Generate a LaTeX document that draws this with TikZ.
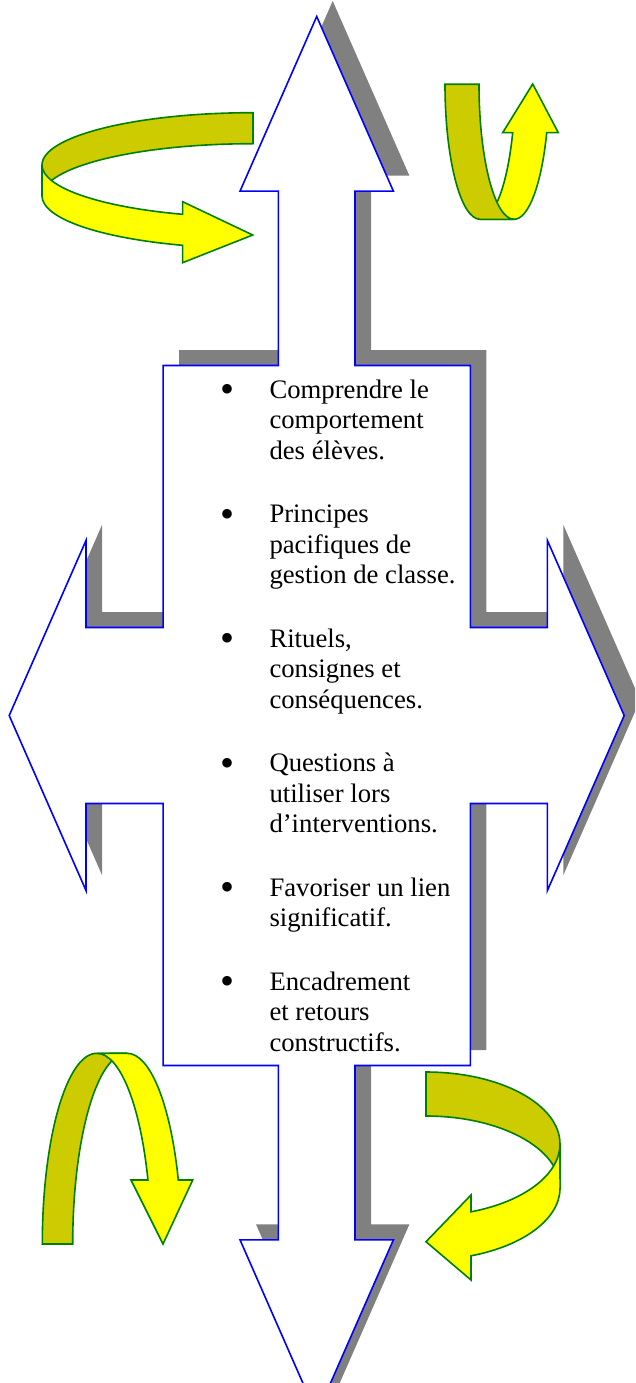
\documentclass[tikz,border=0pt]{standalone}
\usepackage{fontspec}
\setmainfont{Liberation Serif}
\usepackage{xcolor}
\definecolor{ribbonyellow}{HTML}{FFFF00}
\definecolor{ribbonolive}{HTML}{CCCC00}
\definecolor{ribbongreen}{HTML}{008000}
\definecolor{shadowgray}{HTML}{808080}
\newcommand{\itemfont}{\fontsize{26.7}{30.5}\selectfont}
% outline of the four-way arrow, around its centre
\newcommand{\crossoutline}{(0,-699) -- (76.7,-524.3) -- (38.3,-524.3) -- (38.3,-350) -- (153.6,-350) -- (153.6,-88) -- (230.7,-88) -- (230.7,-175) -- (307.5,0) -- (230.7,175) -- (230.7,88) -- (153.6,88) -- (153.6,350) -- (38.3,350) -- (38.3,524.3) -- (76.7,524.3) -- (0,699) -- (-76.7,524.3) -- (-38.3,524.3) -- (-38.3,350) -- (-153.6,350) -- (-153.6,88) -- (-230.7,88) -- (-230.7,175) -- (-307.5,0) -- (-230.7,-175) -- (-230.7,-88) -- (-153.6,-88) -- (-153.6,-350) -- (-38.3,-350) -- (-38.3,-524.3) -- (-76.7,-524.3) -- cycle}

\begin{document}
\begin{tikzpicture}[x=1pt,y=-1pt,
    crossline/.style={fill=white,draw=blue,line width=1.6pt},
    ribbonback/.style={fill=ribbonolive,draw=ribbongreen,line width=1.6pt},
    ribbonfront/.style={fill=ribbonyellow,draw=ribbongreen,line width=1.6pt},
    itemdot/.style={anchor=base,inner sep=0pt,font=\fontsize{40}{40}\selectfont},
    itemtext/.style={anchor=base west,align=left,inner sep=0pt,font=\itemfont}]
    \useasboundingbox (0,0) rectangle (635,1383);
    \clip (0,0) rectangle (635,1383);

    \begin{scope}[shift={(316.7,715.5)}]
        \fill[shadowgray,shift={(16,-15.5)}] \crossoutline;
        \draw[crossline] \crossoutline;
    \end{scope}

    % top left
    \draw[ribbonback] (253,112.7) arc[start angle=270,end angle=180,x radius=211,y radius=52.3]
        -- (42,196) arc[start angle=180,end angle=270,x radius=211,y radius=52.3] -- cycle;
    \draw[ribbonfront] (42,165) arc[start angle=180,end angle=109.5,x radius=211,y radius=52.3]
        -- (182.6,201.7) -- (252.7,235) -- (182.6,262.7) -- (182.6,245.3)
        arc[start angle=109.5,end angle=180,x radius=211,y radius=52.3] -- cycle;

    % top right
    \draw[ribbonfront] (480,219.3) arc[start angle=90,end angle=21,x radius=35,y radius=135]
        -- (502.7,132.7) -- (532.7,84) -- (558.3,132.7) -- (546.7,132.7)
        arc[start angle=21,end angle=90,x radius=35,y radius=135] -- cycle;
    \draw[ribbonback] (445,84.3) arc[start angle=180,end angle=90,x radius=35,y radius=135]
        -- (514,219.3) arc[start angle=90,end angle=180,x radius=35,y radius=135] -- cycle;

    % bottom left
    \draw[ribbonback] (42.3,1244) arc[start angle=180,end angle=270,x radius=54.4,y radius=190.7]
        -- (127.1,1053.3) arc[start angle=270,end angle=180,x radius=54.4,y radius=190.7] -- cycle;
    \draw[ribbonfront] (96.7,1053.3) arc[start angle=270,end angle=340.4,x radius=54.4,y radius=190.7]
        -- (131,1180) -- (163,1244) -- (192.7,1180) -- (178.3,1180)
        arc[start angle=340.4,end angle=270,x radius=54.4,y radius=190.7] -- cycle;

    % bottom right
    \draw[ribbonback] (426,1072) arc[start angle=270,end angle=360,x radius=134,y radius=72]
        -- (560,1188) arc[start angle=360,end angle=270,x radius=134,y radius=72] -- cycle;
    \draw[ribbonfront] (560,1144) arc[start angle=0,end angle=70.4,x radius=134,y radius=72]
        -- (471,1195) -- (426,1241.7) -- (471,1280) -- (471,1255.8)
        arc[start angle=70.4,end angle=0,x radius=134,y radius=72] -- cycle;

    % bullets on the first line, texts on their last line
    \node[itemdot] (dot1) at (227.7,402.5) {\textbullet};
    \node[itemtext] (item1) at (269.3,459) {Comprendre le\\comportement\\des élèves.};
    \node[itemdot] (dot2) at (227.7,527.2) {\textbullet};
    \node[itemtext] (item2) at (269.3,583.7) {Principes\\pacifiques de\\gestion de classe.};
    \node[itemdot] (dot3) at (227.7,651.5) {\textbullet};
    \node[itemtext] (item3) at (269.3,708) {Rituels,\\consignes et\\conséquences.};
    \node[itemdot] (dot4) at (227.7,776.2) {\textbullet};
    \node[itemtext] (item4) at (269.3,832.7) {Questions à\\utiliser lors\\d’interventions.};
    \node[itemdot] (dot5) at (227.7,900.5) {\textbullet};
    \node[itemtext] (item5) at (269.3,926.5) {Favoriser un lien\\significatif.};
    \node[itemdot] (dot6) at (227.7,994.5) {\textbullet};
    \node[itemtext] (item6) at (269.3,1051) {Encadrement\\et retours\\constructifs.};
\end{tikzpicture}
\end{document}
